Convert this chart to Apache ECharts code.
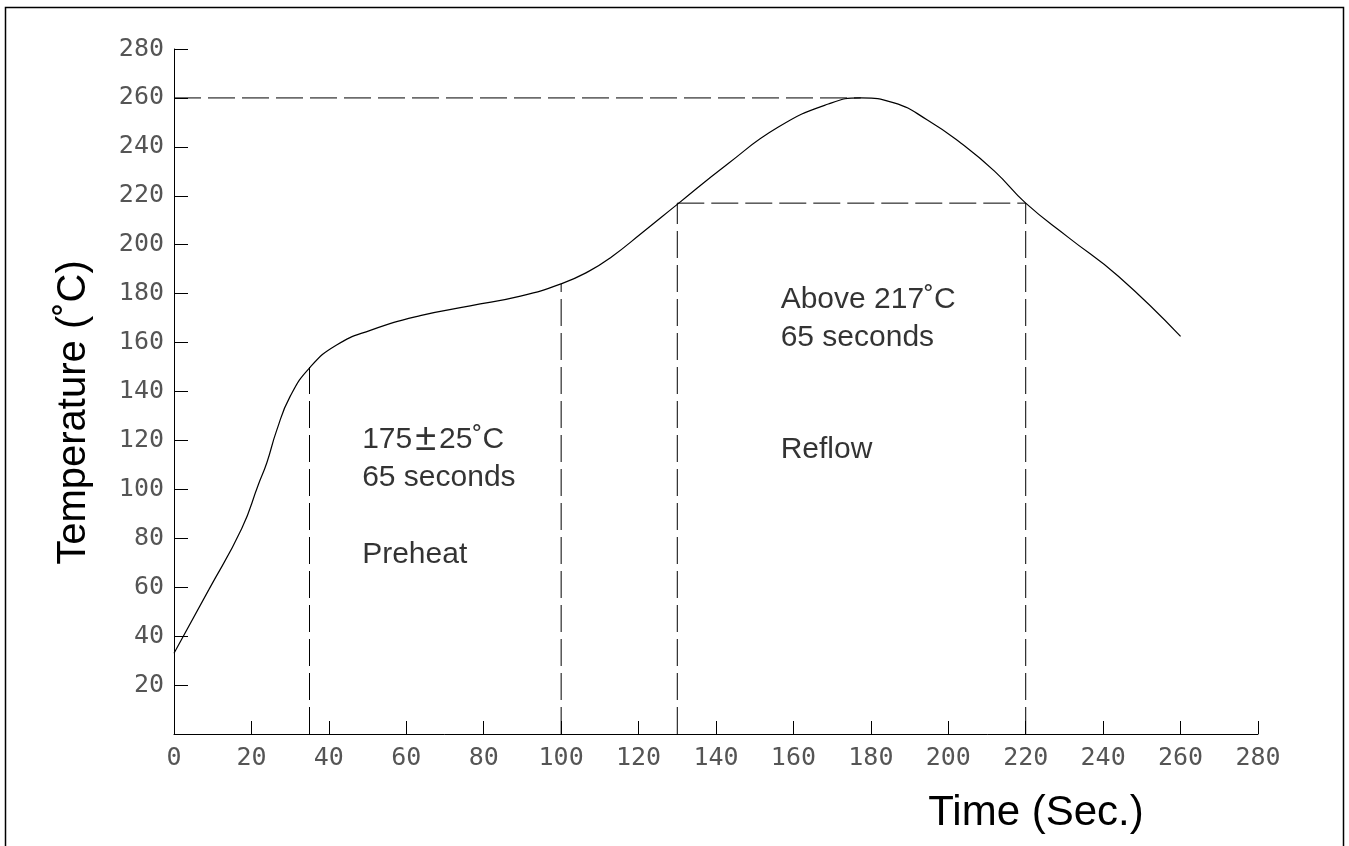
<!DOCTYPE html>
<html>
<head>
<meta charset="utf-8">
<script src="https://cdn.jsdelivr.net/npm/echarts@6/dist/echarts.min.js"></script>
<style>
  html, body { margin: 0; padding: 0; background: #fff; }
  #chart { width: 1349px; height: 846px; }
</style>
</head>
<body>
<div id="chart"></div>
<script>
// reflow profile curve (sec, degC)
var timeSec = [0, 9, 17.5, 21.8, 24, 26.5, 30, 35.2, 42, 50.7, 63.6, 76.5, 89.5, 100, 107, 113, 121, 130, 143, 156, 169, 177.4, 186, 194.6, 203.3, 212, 220, 231, 244, 260];
var tempC   = [33, 59, 84, 102, 111, 124, 138, 150, 159, 165, 171, 175, 179, 184, 189, 195, 205, 216.5, 233, 248, 257.5, 260, 258, 251, 241.5, 230, 217, 203, 187, 162.5];

// dashed guides
var guideX    = [35, 100, 130, 220];
var guideTop  = [150, 184, 217, 217];
var peakTemp  = 260;
var peakTime  = 177.4;
var reflowTemp = 217;
var reflowFrom = 130;
var reflowTo   = 220;

// text notes: [time, temp, text]
var notes = [
  [48.6, 120.2, '175\u00b125\u02daC'],
  [48.6, 104.7, '65 seconds'],
  [48.6, 73.2, 'Preheat'],
  [156.7, 177.4, 'Above 217\u02daC'],
  [156.7, 161.9, '65 seconds'],
  [156.7, 116.1, 'Reflow']
];

var axisMax = 280;
var step = 20;

var curve = [];
for (var i = 0; i < timeSec.length; i++) {
  curve.push([timeSec[i], tempC[i]]);
}

var dash = { color: '#000', width: 1, type: [27, 7] };

var series = [{
  type: 'line',
  data: curve,
  smooth: 0.5,
  showSymbol: false,
  lineStyle: { color: '#000', width: 1.2 },
  z: 5
}];

// vertical guides
for (var j = 0; j < guideX.length; j++) {
  series.push({
    type: 'line',
    data: [[guideX[j], 0], [guideX[j], guideTop[j]]],
    showSymbol: false,
    lineStyle: dash
  });
}
// peak line
series.push({
  type: 'line',
  data: [[0, peakTemp], [peakTime, peakTemp]],
  showSymbol: false,
  lineStyle: dash
});
// above 217 line
series.push({
  type: 'line',
  data: [[reflowFrom, reflowTemp], [reflowTo, reflowTemp]],
  showSymbol: false,
  lineStyle: dash
});
// notes
series.push({
  type: 'scatter',
  data: notes,
  symbolSize: 0,
  label: {
    show: true,
    position: 'right',
    distance: 0,
    formatter: function (p) { return p.value[2].replace('\u00b1', '{pm|\u00b1}'); },
    fontFamily: 'Liberation Sans, Arial, sans-serif',
    fontSize: 30,
    color: '#000',
    rich: {
      pm: { fontFamily: 'Liberation Sans, Arial, sans-serif', fontSize: 38, color: '#000', padding: [0, 3, 0, 3] }
    }
  }
});

var tickFont = {
  fontFamily: 'DejaVu Sans Mono, monospace',
  fontSize: 25,
  color: '#555'
};

var option = {
  animation: false,
  backgroundColor: '#fff',
  grid: { left: 174, right: 91, top: 49, bottom: 112, outerBoundsMode: 'none' },
  graphic: [{
    type: 'rect',
    shape: { x: 5.5, y: 7.5, width: 1338, height: 860 },
    style: { fill: 'none', stroke: '#000', lineWidth: 1.5 },
    silent: true
  }],
  xAxis: {
    type: 'value',
    min: 0, max: axisMax, interval: step,
    name: 'Time (Sec.)',
    nameLocation: 'middle',
    nameGap: 58,
    nameTextStyle: { fontFamily: 'Liberation Sans, Arial, sans-serif', fontSize: 42, color: '#000', padding: [0, 0, 0, 640] },
    axisLine: { lineStyle: { color: '#000', width: 1 } },
    axisTick: { inside: true, length: 13, lineStyle: { color: '#000', width: 1 } },
    axisLabel: Object.assign({ margin: 12 }, tickFont),
    splitLine: { show: false }
  },
  yAxis: {
    type: 'value',
    min: 0, max: axisMax, interval: step,
    name: 'Temperature (\u02daC)',
    nameLocation: 'middle',
    nameGap: 80,
    nameRotate: 90,
    nameTextStyle: { fontFamily: 'Liberation Sans, Arial, sans-serif', fontSize: 40, color: '#000', padding: [0, 42, 0, 0] },
    axisLine: { show: true, lineStyle: { color: '#000', width: 1 } },
    axisTick: { show: true, inside: true, length: 14, lineStyle: { color: '#000', width: 1 } },
    axisLabel: Object.assign({
      margin: 10,
      formatter: function (v) { return v === 0 ? '' : String(v); }
    }, tickFont),
    splitLine: { show: false }
  },
  series: series
};

var chart = echarts.init(document.getElementById('chart'));
chart.setOption(option);
</script>
</body>
</html>
